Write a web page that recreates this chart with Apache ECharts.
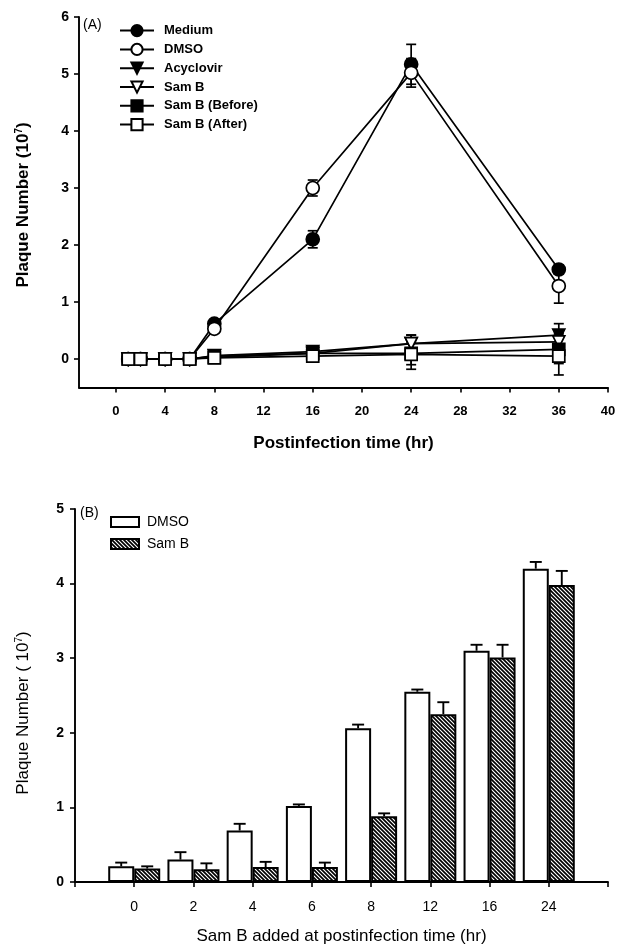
<!DOCTYPE html>
<html>
<head>
<meta charset="utf-8">
<script src="https://cdn.jsdelivr.net/npm/echarts@6.0.0/dist/echarts.min.js"></script>
<style>
html,body{margin:0;padding:0;background:#fff;}
#chart{width:620px;height:950px;}
</style>
</head>
<body>
<div id="chart"></div>
<script>
// ---------- Panel A data ----------
const timesA = [1, 2, 4, 6, 8, 16, 24, 36];
const xTicksA = [0, 4, 8, 12, 16, 20, 24, 28, 32, 36, 40];
const yTicksA = [0, 1, 2, 3, 4, 5, 6];
const medium        = [0, 0, 0, 0, 0.62, 2.10, 5.17, 1.57];
const mediumErr     = [0, 0, 0, 0, 0.03, 0.15, 0.35, 0.08];
const dmsoA         = [0, 0, 0, 0, 0.53, 3.00, 5.02, 1.28];
const dmsoAErr      = [0, 0, 0, 0, 0.03, 0.14, 0.25, 0.30];
const acyclovir     = [0, 0, 0, 0, 0.06, 0.13, 0.27, 0.42];
const acyclovirErr  = [0, 0, 0, 0, 0.02, 0.05, 0.15, 0.20];
const samBA         = [0, 0, 0, 0, 0.05, 0.10, 0.27, 0.30];
const samBAErr      = [0, 0, 0, 0, 0.03, 0.05, 0.15, 0.15];
const samBBefore    = [0, 0, 0, 0, 0.03, 0.10, 0.10, 0.17];
const samBBeforeErr = [0, 0, 0, 0, 0.03, 0.05, 0.20, 0.25];
const samBAfter     = [0, 0, 0, 0, 0.02, 0.05, 0.08, 0.05];
const samBAfterErr  = [0, 0, 0, 0, 0.03, 0.05, 0.26, 0.33];

// ---------- Panel B data ----------
const catsB   = ['0', '2', '4', '6', '8', '12', '16', '24'];
const dmsoB   = [0.21, 0.30, 0.69, 1.02, 2.06, 2.55, 3.10, 4.20];
const dmsoBErr= [0.05, 0.10, 0.09, 0.02, 0.05, 0.03, 0.08, 0.09];
const samBB   = [0.18, 0.17, 0.20, 0.20, 0.88, 2.25, 3.01, 3.98];
const samBBErr= [0.03, 0.08, 0.07, 0.06, 0.04, 0.16, 0.17, 0.19];

const FONT = "'Liberation Sans', Arial, Helvetica, sans-serif";

function hatchPattern() {
  const c = document.createElement('canvas');
  c.width = 4; c.height = 4;
  const g = c.getContext('2d');
  g.fillStyle = '#fff'; g.fillRect(0, 0, 4, 4);
  g.strokeStyle = '#000'; g.lineWidth = 1.7;
  g.beginPath();
  g.moveTo(-1, -1); g.lineTo(5, 5);
  g.moveTo(-1, 3); g.lineTo(1, 5);
  g.moveTo(3, -1); g.lineTo(5, 1);
  g.stroke();
  return c;
}
const HATCH = { image: hatchPattern(), repeat: 'repeat' };

const triDown = 'path://M0,0 L10,0 L5,9 Z';

const seriesDefs = [
  { name: 'Medium', vals: medium, err: mediumErr, symbol: 'circle', size: 13, fill: '#000' },
  { name: 'DMSO', vals: dmsoA, err: dmsoAErr, symbol: 'circle', size: 13, fill: '#fff' },
  { name: 'Acyclovir', vals: acyclovir, err: acyclovirErr, symbol: triDown, size: 12, fill: '#000' },
  { name: 'Sam B', vals: samBA, err: samBAErr, symbol: triDown, size: 12, fill: '#fff' },
  { name: 'Sam B (Before)', vals: samBBefore, err: samBBeforeErr, symbol: 'rect', size: 12, fill: '#000' },
  { name: 'Sam B (After)', vals: samBAfter, err: samBAfterErr, symbol: 'rect', size: 12, fill: '#fff' }
];

const series = [];
seriesDefs.forEach(function (d) {
  series.push({
    type: 'custom',
    xAxisIndex: 0, yAxisIndex: 0,
    silent: true, z: 1,
    data: timesA.map(function (t, i) { return [t, d.vals[i], d.err[i]]; }).filter(function (r) { return r[2] > 0; }),
    renderItem: function (params, api) {
      const x = api.value(0), v = api.value(1), e = api.value(2);
      const hi = api.coord([x, v + e]);
      const lo = api.coord([x, v - e]);
      const st = { stroke: '#000', lineWidth: 1.7 };
      return {
        type: 'group',
        children: [
          { type: 'line', shape: { x1: hi[0], y1: hi[1], x2: lo[0], y2: lo[1] }, style: st },
          { type: 'line', shape: { x1: hi[0] - 5, y1: hi[1], x2: hi[0] + 5, y2: hi[1] }, style: st },
          { type: 'line', shape: { x1: lo[0] - 5, y1: lo[1], x2: lo[0] + 5, y2: lo[1] }, style: st }
        ]
      };
    }
  });
});
seriesDefs.forEach(function (d) {
  series.push({
    name: d.name,
    type: 'line',
    xAxisIndex: 0, yAxisIndex: 0,
    z: 3,
    data: timesA.map(function (t, i) { return [t, d.vals[i]]; }),
    symbol: d.symbol,
    symbolSize: d.size,
    showAllSymbol: true,
    lineStyle: { color: '#000', width: 1.7 },
    itemStyle: { color: d.fill, borderColor: '#000', borderWidth: 1.7 },
    emphasis: { disabled: true },
    animation: false
  });
});

// Panel B bars (padded category axis so bars sit on ticks)
const catsBPadded = [''].concat(catsB, ['']);
const dmsoBPadded = ['-'].concat(dmsoB, ['-']);
const samBBPadded = ['-'].concat(samBB, ['-']);

series.push({
  name: 'DMSO ',
  type: 'bar',
  xAxisIndex: 1, yAxisIndex: 1,
  data: dmsoBPadded,
  barWidth: 26, barGap: '0%',
  itemStyle: { color: '#fff', borderColor: '#000', borderWidth: 2 },
  emphasis: { disabled: true },
  z: 2
});
series.push({
  name: 'Sam B ',
  type: 'bar',
  xAxisIndex: 1, yAxisIndex: 1,
  data: samBBPadded,
  barWidth: 26, barGap: '0%',
  itemStyle: { color: HATCH, borderColor: '#000', borderWidth: 2 },
  emphasis: { disabled: true },
  z: 2
});
function barErr(vals, errs, side) {
  return {
    type: 'custom',
    xAxisIndex: 1, yAxisIndex: 1,
    silent: true, z: 1,
    data: vals.map(function (v, i) { return [i + 1, v, errs[i]]; }),
    renderItem: function (params, api) {
      const idx = api.value(0), v = api.value(1), e = api.value(2);
      const base = api.coord([idx, v]);
      const top = api.coord([idx, v + e]);
      const x = base[0] + side * 13;
      const st = { stroke: '#000', lineWidth: 1.9 };
      return {
        type: 'group',
        children: [
          { type: 'line', shape: { x1: x, y1: base[1], x2: x, y2: top[1] }, style: st },
          { type: 'line', shape: { x1: x - 6, y1: top[1], x2: x + 6, y2: top[1] }, style: st }
        ]
      };
    }
  };
}
series.push(barErr(dmsoB, dmsoBErr, -1));
series.push(barErr(samBB, samBBErr, 1));

const axisLineStyle = { show: true, lineStyle: { color: '#000', width: 1.9 } };
const tickStyle = { show: true, inside: false, length: 5, lineStyle: { color: '#000', width: 1.6 } };
const labelStyle = { color: '#000', fontFamily: FONT, fontSize: 13, fontWeight: 'bold' };

const option = {
  backgroundColor: '#fff',
  animation: false,
  textStyle: { fontFamily: FONT },
  grid: [
    { left: 79, right: 12, top: 17, bottom: 562.5 },
    { left: 75, right: 12, top: 509, bottom: 68 }
  ],
  xAxis: [
    {
      type: 'value', gridIndex: 0, min: -3, max: 40,
      splitLine: { show: false },
      axisLine: Object.assign({ onZero: false }, axisLineStyle),
      axisTick: Object.assign({ customValues: xTicksA }, tickStyle),
      axisLabel: Object.assign({ customValues: xTicksA, margin: 17 }, labelStyle),
      name: 'Postinfection time (hr)',
      nameLocation: 'middle', nameGap: 47,
      nameTextStyle: { color: '#000', fontFamily: FONT, fontSize: 17, fontWeight: 'bold' }
    },
    {
      type: 'category', gridIndex: 1, data: catsBPadded, boundaryGap: false,
      splitLine: { show: false },
      axisLine: Object.assign({ onZero: false }, axisLineStyle),
      axisTick: Object.assign({ alignWithLabel: true, interval: 0 }, tickStyle),
      axisLabel: Object.assign({ margin: 18, interval: 0 }, labelStyle, { fontWeight: 'normal', fontSize: 14 }),
      name: 'Sam B added at postinfection time (hr)',
      nameLocation: 'middle', nameGap: 46,
      nameTextStyle: { color: '#000', fontFamily: FONT, fontSize: 17 }
    }
  ],
  yAxis: [
    {
      type: 'value', gridIndex: 0, min: -0.5, max: 6,
      splitLine: { show: false },
      axisLine: Object.assign({ onZero: false }, axisLineStyle),
      axisTick: Object.assign({ customValues: yTicksA }, tickStyle),
      axisLabel: Object.assign({ customValues: yTicksA, margin: 10 }, labelStyle, { fontSize: 14 })
    },
    {
      type: 'value', gridIndex: 1, min: 0, max: 5, interval: 1,
      splitLine: { show: false },
      axisLine: Object.assign({ onZero: false }, axisLineStyle),
      axisTick: tickStyle,
      axisLabel: Object.assign({ margin: 11 }, labelStyle, { fontSize: 14 })
    }
  ],
  legend: [
    {
      orient: 'vertical', left: 114, top: 19,
      itemWidth: 34, itemHeight: 14, itemGap: 5.6,
      data: seriesDefs.map(function (d) { return d.name; }),
      textStyle: { color: '#000', fontFamily: FONT, fontSize: 13, fontWeight: 'bold', padding: [0, 0, 0, 5] },
      selectedMode: false
    },
    {
      orient: 'vertical', left: 105, top: 510,
      itemWidth: 28, itemHeight: 10, itemGap: 8,
      icon: 'rect',
      data: ['DMSO ', 'Sam B '],
      textStyle: { color: '#000', fontFamily: FONT, fontSize: 14, padding: [0, 0, 0, 3] },
      selectedMode: false
    }
  ],
  graphic: [
    { type: 'text', left: 83, top: 18, style: { text: '(A)', font: '14px ' + FONT, fill: '#000' } },
    { type: 'text', left: 80, top: 506, style: { text: '(B)', font: '14px ' + FONT, fill: '#000' } },
    {
      type: 'text', x: 23, y: 205, rotation: Math.PI / 2,
      style: {
        text: 'Plaque Number (10{sup|7})',
        font: 'bold 17px ' + FONT, fill: '#000',
        align: 'center', verticalAlign: 'middle',
        rich: { sup: { fontSize: 10, fontWeight: 'bold', fontFamily: FONT, verticalAlign: 'top', padding: [0, 0, 6, 0] } }
      }
    },
    {
      type: 'text', x: 23, y: 713, rotation: Math.PI / 2,
      style: {
        text: 'Plaque Number ( 10{sup|7})',
        font: '17px ' + FONT, fill: '#000',
        align: 'center', verticalAlign: 'middle',
        rich: { sup: { fontSize: 10, fontFamily: FONT, verticalAlign: 'top', padding: [0, 0, 6, 0] } }
      }
    }
  ],
  series: series
};

const chart = echarts.init(document.getElementById('chart'), null, { renderer: 'canvas' });
chart.setOption(option);
</script>
</body>
</html>
